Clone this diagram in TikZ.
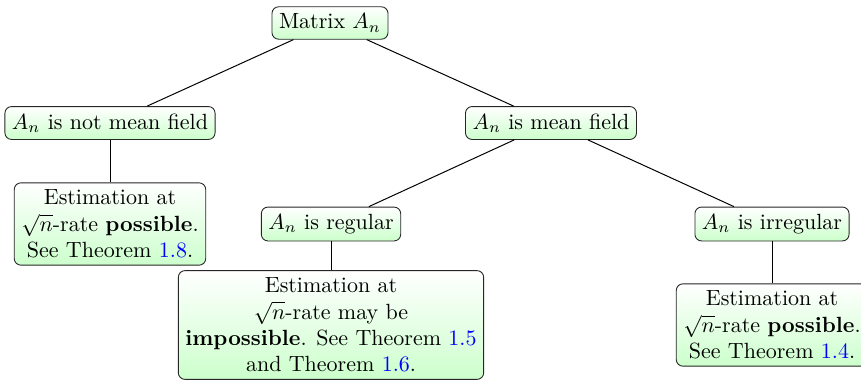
\documentclass[tikz,border=0pt]{standalone}
\usepackage{amsmath}
\begin{document}
\begin{tikzpicture}[x=0.4545pt,y=-0.4545pt,
  box/.style={draw=black!85, rounded corners=3pt, top color=white, bottom color=green!20,
    align=center, inner sep=3.2pt, font={\fontsize{10}{12}\selectfont}},
  link/.style={draw=black, line width=0.45pt}]
\useasboundingbox (0,0) rectangle (861,381);
\node[box] (m) at (330,23) {Matrix $A_n$};
\node[box] (nm) at (110,123) {$A_n$ is not mean field};
\node[box] (mf) at (551,123) {$A_n$ is mean field};
\node[box] (e1) at (110,224) {Estimation at\\ $\sqrt{n}$-rate \textbf{possible}.\\ See Theorem \textcolor{blue}{1.8}.};
\node[box] (r) at (331,224) {$A_n$ is regular};
\node[box] (ir) at (772,224) {$A_n$ is irregular};
\node[box] (e2) at (331,325) {Estimation at\\ $\sqrt{n}$-rate may be\\ \textbf{impossible}. See Theorem \textcolor{blue}{1.5}\\ and Theorem \textcolor{blue}{1.6}.};
\node[box] (e3) at (772,325) {Estimation at\\ $\sqrt{n}$-rate \textbf{possible}.\\ See Theorem \textcolor{blue}{1.4}.};
\draw[link] (m) -- (nm);
\draw[link] (m) -- (mf);
\draw[link] (nm) -- (e1);
\draw[link] (mf) -- (r);
\draw[link] (mf) -- (ir);
\draw[link] (r) -- (e2);
\draw[link] (ir) -- (e3);
\end{tikzpicture}
\end{document}
